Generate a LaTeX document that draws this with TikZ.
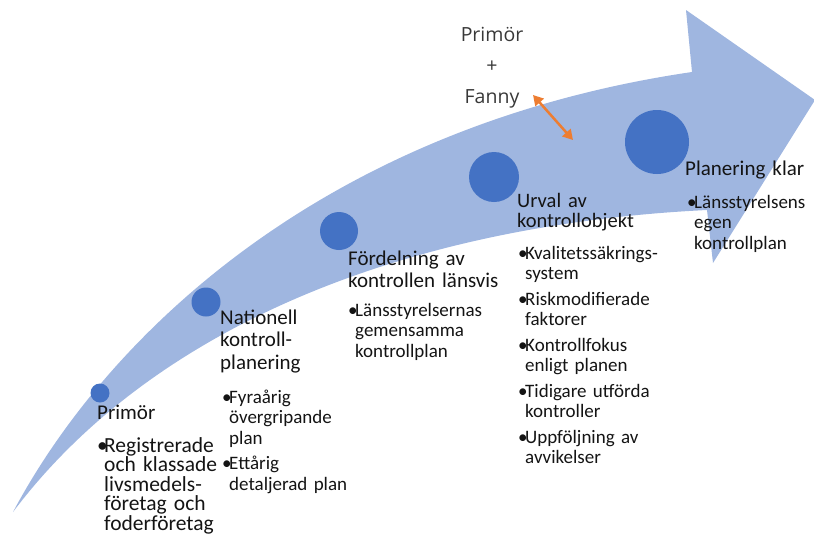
\documentclass[tikz,border=0pt]{standalone}
\usepackage{fontspec}
\setmainfont{Carlito}
\newfontfamily\topfont{Open Sans}
\usetikzlibrary{arrows.meta}
\definecolor{bandblue}{HTML}{9FB6E0}
\definecolor{dotblue}{HTML}{4472C4}
\definecolor{arrorange}{HTML}{ED7D31}
\definecolor{txt}{HTML}{141414}
\newcommand{\bu}{\makebox[7pt][l]{\textbullet}}
\newcommand{\ind}{\hspace*{7pt}}

\begin{document}
\begin{tikzpicture}[x=1pt, y=-1pt,
  dot/.style={circle, fill=dotblue, inner sep=0pt},
  ttl/.style={anchor=base west, inner sep=0pt, text width=180pt, align=left, text=txt, font=\fontsize{21}{22}\selectfont},
  txtbody/.style={anchor=base west, inner sep=0pt, text width=180pt, align=left, text=txt, font=\fontsize{19}{20.5}\selectfont}]
 \useasboundingbox (0,0) rectangle (814,539);
 \fill[bandblue] (13,512) .. controls (110,330) and (330,125) .. (692,72) -- (686,10) -- (815,100) -- (713,263) -- (707,210) .. controls (400,225) and (150,330) .. (13,512) -- cycle;
 \node[dot, minimum size=19pt] (c1) at (100,393) {};
 \node[dot, minimum size=29pt] (c2) at (206,302) {};
 \node[dot, minimum size=38pt] (c3) at (339,231) {};
 \node[dot, minimum size=50pt] (c4) at (494,177) {};
 \node[dot, minimum size=64pt] (c5) at (657,142) {};
 \node[ttl] (t1) at (97,419) {Primör};
 \node[txtbody, font=\fontsize{21.5}{19.5}\selectfont] (b1) at (97,452) {\bu Registrerade\\ \ind och klassade\\ \ind livsmedels-\\ \ind företag och\\ \ind foderföretag};
 \node[ttl, font=\fontsize{21}{22.5}\selectfont] (t2) at (220,324) {Nationell\\kontroll-\\planering};
 \node[txtbody] (b2) at (222,403) {\bu Fyraårig\\ \ind övergripande\\ \ind plan\\[5pt] \bu Ettårig\\ \ind detaljerad plan};
 \node[ttl] (t3) at (348,265) {Fördelning av\\kontrollen länsvis};
 \node[txtbody] (b3) at (348,316) {\bu Länsstyrelsernas\\ \ind gemensamma\\ \ind kontrollplan};
 \node[ttl, font=\fontsize{20.5}{20.5}\selectfont] (t4) at (517,207) {Urval av\\kontrollobjekt};
 \node[txtbody] (b4) at (518,259) {\bu Kvalitetssäkrings-\\ \ind system\\[5pt] \bu Riskmodifierade\\ \ind faktorer\\[5pt] \bu Kontrollfokus\\ \ind enligt planen\\[5pt] \bu Tidigare utförda\\ \ind kontroller\\[5pt] \bu Uppföljning av\\ \ind avvikelser};
 \node[ttl] (t5) at (685,175) {Planering klar};
 \node[txtbody] (b5) at (687,208) {\bu Länsstyrelsens\\ \ind egen\\ \ind kontrollplan};
 \node[anchor=base, inner sep=0pt, text width=100pt, align=center, text=black!78, font=\topfont\fontsize{19.5}{31}\selectfont] (team) at (492,41) {Primör\\+\\Fanny};
 \coordinate (o1) at (533,95);
 \coordinate (o2) at (573,140);
 \draw[arrorange, line width=2.5pt, {Triangle[length=10pt,width=11pt]}-{Triangle[length=10pt,width=11pt]}] (o1) -- (o2);
\end{tikzpicture}
\end{document}
